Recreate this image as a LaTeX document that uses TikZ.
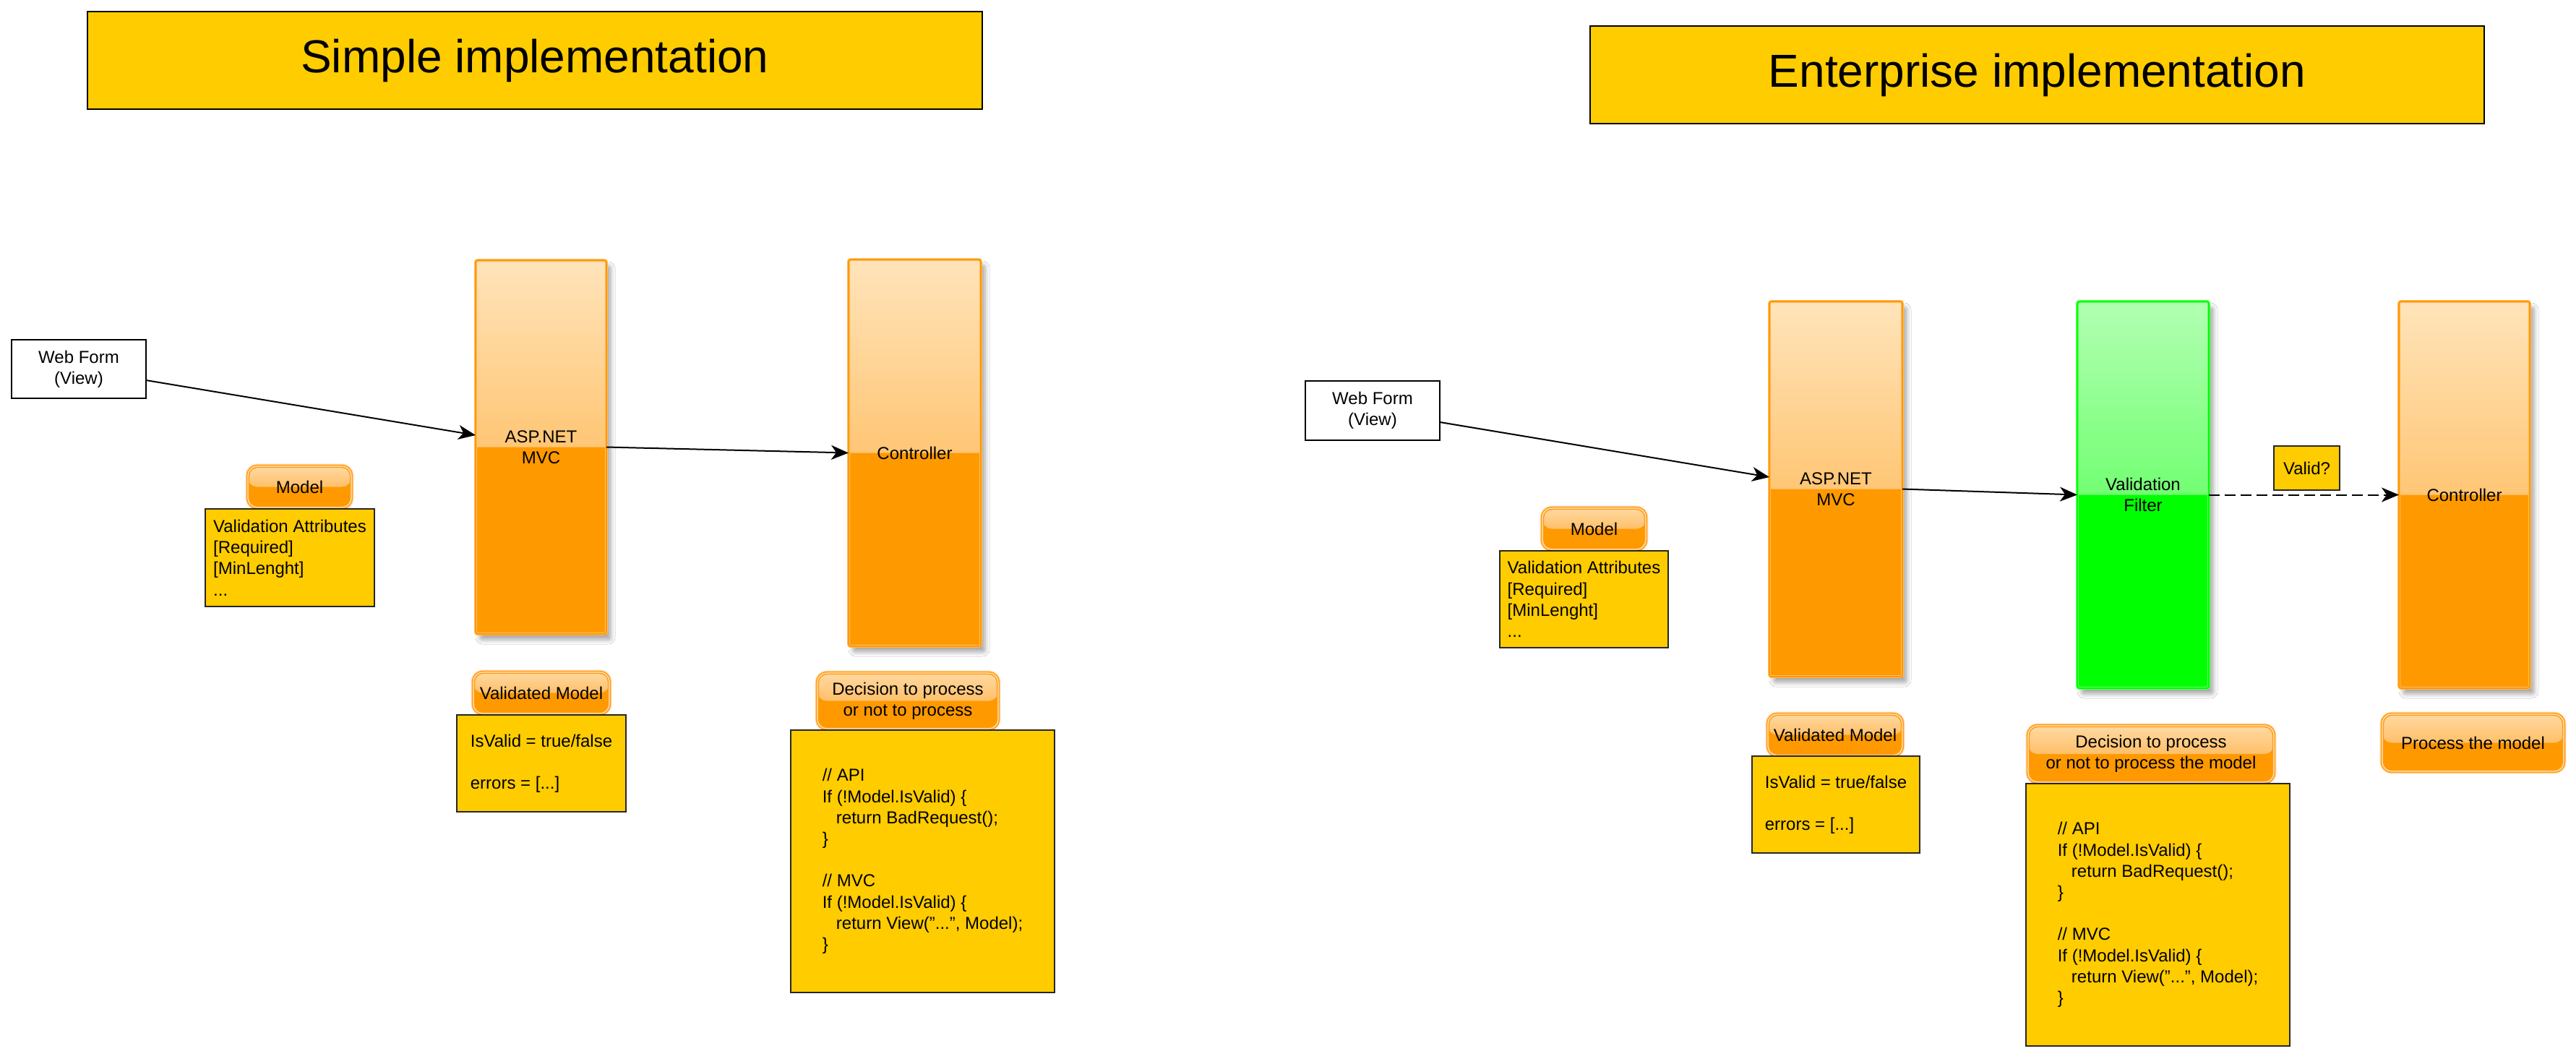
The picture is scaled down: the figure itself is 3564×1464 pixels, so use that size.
\documentclass[tikz,border=0pt]{standalone}
\usepackage{fontspec}
\setmainfont{Liberation Sans}
\usetikzlibrary{arrows.meta,shadows.blur}
\definecolor{yel}{HTML}{FFCC00}
\definecolor{org}{HTML}{FF9900}
\definecolor{orgpale}{HTML}{FFBD66}
\definecolor{gtop}{HTML}{FFE4BA}
\definecolor{gmid}{HTML}{FFC478}
\definecolor{gbot}{HTML}{FFA830}
\definecolor{ptop}{HTML}{FFD9A2}
\definecolor{pmid}{HTML}{FFC06A}
\definecolor{pbot}{HTML}{FFA630}
\definecolor{pline}{HTML}{FF9C14}
\definecolor{phalo}{HTML}{FFD9AA}
\definecolor{pinner}{HTML}{FFE8C6}
\definecolor{grn}{HTML}{00FF00}
\definecolor{grnpale}{HTML}{66FF66}
\definecolor{grntop}{HTML}{B2FFB2}
\definecolor{grnmid}{HTML}{78FF78}
\definecolor{grnbot}{HTML}{33FF33}
\begin{document}
\begin{tikzpicture}[x=0.5pt,y=-0.5pt,
  base/.style={inner sep=0pt, outer sep=0pt, align=center,
    font=\fontsize{12pt}{14.6pt}\selectfont},
  titlebox/.style={base, draw=black, line width=1pt, fill=yel,
    font=\fontsize{32pt}{38pt}\selectfont},
  formbox/.style={base, draw=black, line width=1pt, fill=white},
  notebox/.style={base, draw=black!85, line width=1pt, fill=yel, align=left},
  validbox/.style={base, draw=black!85, line width=1pt, fill=yel},
  colshadow/.style={blur shadow={shadow xshift=3pt, shadow yshift=-4pt,
    shadow blur radius=3pt, shadow blur steps=6, shadow opacity=35}},
  column/.style={base, rounded corners=1.5pt, fill=org, draw=orgpale,
    double=org, line width=0.5pt, double distance=1pt, colshadow,
    path picture={\shade[top color=gtop, middle color=gmid, bottom color=gbot]
      (path picture bounding box.north west) rectangle (path picture bounding box.east);}},
  greencolumn/.style={base, rounded corners=1.5pt, fill=grn, draw=grnpale,
    double=grn, line width=0.5pt, double distance=1pt, colshadow,
    path picture={\shade[top color=grntop, middle color=grnmid, bottom color=grnbot]
      (path picture bounding box.north west) rectangle (path picture bounding box.east);}},
  pill/.style={base, rounded corners=6.5pt, fill=org, draw=pline,
    double=pinner, line width=0.8pt, double distance=0.6pt,
    preaction={draw=phalo, line width=3.4pt},
    path picture={\shade[top color=ptop, middle color=pmid, bottom color=pbot]
      (path picture bounding box.north west) rectangle (path picture bounding box.east);}},
  arr/.style={-{Stealth[length=12pt,width=10pt,inset=3.5pt]}, line width=1pt, black},
  dasharr/.style={arr, dash pattern=on 7.5pt off 3.5pt}
]
\useasboundingbox (0,0) rectangle (3564,1464);
\fill[white] (0,0) rectangle (3564,1464);

% ---------- Simple implementation ----------
\node[titlebox, minimum width=619pt, minimum height=67.5pt] (t1) at (740,83.5) {Simple implementation};

\node[formbox, minimum width=93pt, minimum height=40.5pt] (wf1) at (109,510.5) {Web Form\\(View)};
\node[pill, minimum width=71.5pt, minimum height=28.5pt] (m1) at (414.5,673.5) {Model};
\node[notebox, minimum width=117pt, minimum height=67.5pt] (va1) at (401,771.5)
  {Validation Attributes\\{[Required]}\\{[MinLenght]}\\...};

\node[column, minimum width=90.5pt, minimum height=258.5pt] (asp1) at (748.5,618.5) {ASP.NET\\MVC};
\node[column, minimum width=91.5pt, minimum height=267.5pt] (c1) at (1265.5,626.5) {Controller};

\node[pill, minimum width=94pt, minimum height=28.5pt] (vm1) at (749,958.5) {Validated Model};
\node[notebox, minimum width=117pt, minimum height=67pt] (iv1) at (749,1056)
  {IsValid = true/false\\\mbox{}\\errors = [...]};

\node[pill, minimum width=125pt, minimum height=38.5pt] (d1) at (1256,969.5)
  {Decision to process\\or not to process};
\node[notebox, minimum width=182.5pt, minimum height=181.5pt] (code1) at (1276.5,1191.5)
  {// API\\If (!Model.IsValid) \{\\\hspace*{9.6pt}return BadRequest();\\\}\\\mbox{}\\// MVC\\If (!Model.IsValid) \{\\\hspace*{9.6pt}return View("...", Model);\\\}};

\draw[arr] ([yshift=-7.75pt]wf1.east) -- ([yshift=8.25pt]asp1.west);
\draw[arr] (asp1.east) -- (c1.west);

% ---------- Enterprise implementation ----------
\node[titlebox, minimum width=618.5pt, minimum height=67.5pt] (t2) at (2818.5,103.5) {Enterprise implementation};

\node[formbox, minimum width=93pt, minimum height=41pt] (wf2) at (1899,568) {Web Form\\(View)};
\node[pill, minimum width=71.5pt, minimum height=28.5pt] (m2) at (2205.5,731.5) {Model};
\node[notebox, minimum width=116.5pt, minimum height=67pt] (va2) at (2191.5,829)
  {Validation Attributes\\{[Required]}\\{[MinLenght]}\\...};

\node[column, minimum width=92pt, minimum height=259.5pt] (asp2) at (2540,676.5) {ASP.NET\\MVC};
\node[greencolumn, minimum width=91pt, minimum height=267.5pt] (vf) at (2965,684.5) {Validation\\Filter};
\node[column, minimum width=90.5pt, minimum height=267.5pt] (c2) at (3409.5,684.5) {Controller};

\node[validbox, minimum width=45.5pt, minimum height=30.5pt] (valid) at (3191.5,647.5) {Valid?};

\node[pill, minimum width=93pt, minimum height=28.5pt] (vm2) at (2539,1016.5) {Validated Model};
\node[notebox, minimum width=116pt, minimum height=67pt] (iv2) at (2540,1113)
  {IsValid = true/false\\\mbox{}\\errors = [...]};

\node[pill, minimum width=170pt, minimum height=39pt] (d2) at (2976,1043)
  {Decision to process\\or not to process the model};
\node[notebox, minimum width=182.5pt, minimum height=181.5pt] (code2) at (2985.5,1265.5)
  {// API\\If (!Model.IsValid) \{\\\hspace*{9.6pt}return BadRequest();\\\}\\\mbox{}\\// MVC\\If (!Model.IsValid) \{\\\hspace*{9.6pt}return View("...", Model);\\\}};

\node[pill, minimum width=125.5pt, minimum height=39.5pt] (pm) at (3421.5,1027.5) {Process the model};

\draw[arr] ([yshift=-8pt]wf2.east) -- ([yshift=8.25pt]asp2.west);
\draw[arr] (asp2.east) -- (vf.west);
\draw[dasharr] (vf.east) -- (c2.west);
\end{tikzpicture}
\end{document}
